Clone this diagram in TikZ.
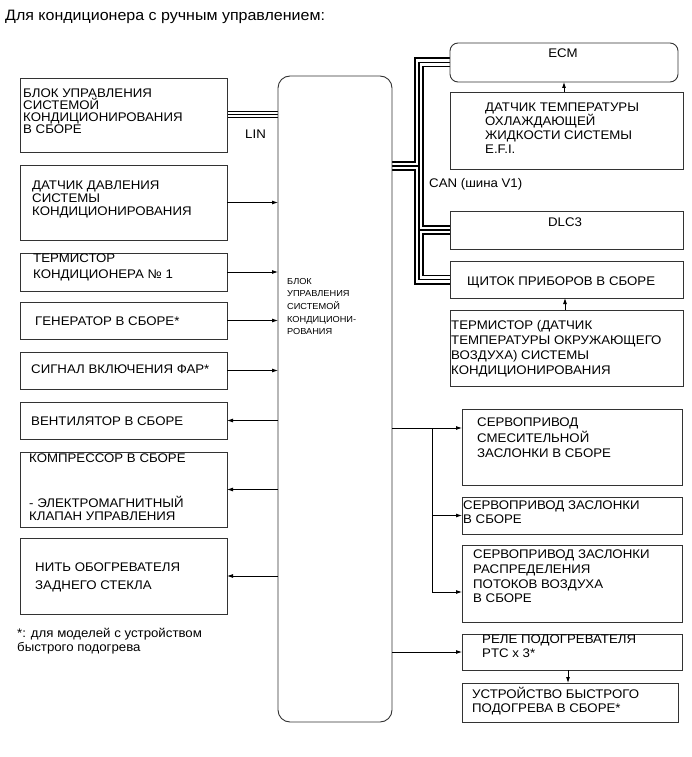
\documentclass[tikz,border=0pt]{standalone}
\usepackage{fontspec}
\setmainfont{Liberation Sans}[FakeStretch=1.06]
\usetikzlibrary{arrows.meta}
\pgfdeclarelayer{bg}
\pgfsetlayers{bg,main}
\begin{document}
\begin{tikzpicture}[x=1pt,y=-1pt,
  box/.style={draw=black!80, line width=0.9pt, inner sep=0, outer sep=0, anchor=north west},
  txt/.style={anchor=west, align=left, inner sep=0},
  arr/.style={line width=0.8pt, -{Latex[length=6pt,width=4pt]}}]
\useasboundingbox (0,0) rectangle (691,757);
\def\bf#1#2{\fontsize{#1}{#2}\selectfont}

% title
\node[txt, font=\bf{15.1}{16}] (title) at (5,17) {Для кондиционера с ручным управлением:};

% central unit
\node[box, rounded corners=12pt, minimum width=114pt, minimum height=646pt] (cb) at (278,76) {};
\node[txt, font=\bf{8.7}{12.7}] (cbt) at (287,306.5) {БЛОК\\УПРАВЛЕНИЯ\\СИСТЕМОЙ\\КОНДИЦИОНИ-\\РОВАНИЯ};

% left boxes
\node[box, minimum width=207pt, minimum height=74pt] (b1) at (20,78) {};
\node[box, minimum width=207pt, minimum height=75pt] (b2) at (20,165) {};
\node[box, minimum width=207pt, minimum height=38pt] (b3) at (20,253) {};
\node[box, minimum width=207pt, minimum height=37pt] (b4) at (20,302) {};
\node[box, minimum width=207pt, minimum height=37pt] (b5) at (20,352) {};
\node[box, minimum width=207pt, minimum height=37pt] (b6) at (20,402) {};
\node[box, minimum width=207pt, minimum height=75pt] (b7) at (20,452) {};
\node[box, minimum width=207pt, minimum height=76pt] (b8) at (20,538) {};

\node[txt, font=\bf{12.5}{11.9}] (t1) at (23,111) {БЛОК УПРАВЛЕНИЯ\\СИСТЕМОЙ\\КОНДИЦИОНИРОВАНИЯ\\В СБОРЕ};
\node[txt, font=\bf{12.5}{13.2}] (t2) at (32,199.5) {ДАТЧИК ДАВЛЕНИЯ\\СИСТЕМЫ\\КОНДИЦИОНИРОВАНИЯ};
\node[txt, font=\bf{12.5}{16}] (t3) at (33,267) {ТЕРМИСТОР\\КОНДИЦИОНЕРА № 1};
\node[txt, font=\bf{12.5}{13}] (t4) at (35,321.5) {ГЕНЕРАТОР В СБОРЕ*};
\node[txt, font=\bf{12.5}{13}] (t5) at (31,369.5) {СИГНАЛ ВКЛЮЧЕНИЯ ФАР*};
\node[txt, font=\bf{12.5}{13}] (t6) at (31,421) {ВЕНТИЛЯТОР В СБОРЕ};
\node[txt, font=\bf{12.5}{13}] (t7a) at (29,458.5) {КОМПРЕССОР В СБОРЕ};
\node[txt, font=\bf{12.5}{12.5}] (t7b) at (29,508.5) {- ЭЛЕКТРОМАГНИТНЫЙ\\КЛАПАН УПРАВЛЕНИЯ};
\node[txt, font=\bf{12.5}{18}] (t8) at (35,577.5) {НИТЬ ОБОГРЕВАТЕЛЯ\\ЗАДНЕГО СТЕКЛА};
\node[txt, font=\bf{12.5}{14}] (note) at (17,641) {*: для моделей с устройством\\быстрого подогрева};

% right upper boxes
\node[box, rounded corners=8pt, minimum width=228pt, minimum height=39pt] (ecm) at (450,43) {};
\node[box, minimum width=233pt, minimum height=77pt] (sens) at (450,92) {};
\node[box, minimum width=233pt, minimum height=38pt] (dlc) at (450,211) {};
\node[box, minimum width=233pt, minimum height=37pt] (shch) at (450,261) {};
\node[box, minimum width=233pt, minimum height=76pt] (term) at (450,310) {};

\node[font=\bf{12.5}{13}, inner sep=0] (ecmt) at (563,53.5) {ECM};
\node[txt, font=\bf{12.5}{13.9}] (senst) at (485,128) {ДАТЧИК ТЕМПЕРАТУРЫ\\ОХЛАЖДАЮЩЕЙ\\ЖИДКОСТИ СИСТЕМЫ\\E.F.I.};
\node[txt, font=\bf{12.5}{13}] (can) at (429,184.5) {CAN (шина V1)};
\node[font=\bf{12.5}{13}, inner sep=0] (dlct) at (565,222.5) {DLC3};
\node[txt, font=\bf{12.5}{13}] (shcht) at (467,282) {ЩИТОК ПРИБОРОВ В СБОРЕ};
\node[txt, font=\bf{12.5}{14.9}] (termt) at (451,349) {ТЕРМИСТОР (ДАТЧИК\\ТЕМПЕРАТУРЫ ОКРУЖАЮЩЕГО\\ВОЗДУХА) СИСТЕМЫ\\КОНДИЦИОНИРОВАНИЯ};
\node[txt, font=\bf{12.5}{13}] (lin) at (245,134.5) {LIN};

% right lower boxes
\node[box, minimum width=220pt, minimum height=76pt] (r1) at (462,409) {};
\node[box, minimum width=220pt, minimum height=37pt] (r2) at (462,497) {};
\node[box, minimum width=220pt, minimum height=77pt] (r3) at (462,545) {};
\node[box, minimum width=220pt, minimum height=36pt] (r4) at (462,634) {};
\node[box, minimum width=216pt, minimum height=39pt] (r5) at (462,683) {};

\node[txt, font=\bf{12.5}{15.5}] (r1t) at (477,438) {СЕРВОПРИВОД\\СМЕСИТЕЛЬНОЙ\\ЗАСЛОНКИ В СБОРЕ};
\node[txt, font=\bf{12.5}{14}] (r2t) at (463,512.5) {СЕРВОПРИВОД ЗАСЛОНКИ\\В СБОРЕ};
\node[txt, font=\bf{12.5}{14.7}] (r3t) at (473,576.5) {СЕРВОПРИВОД ЗАСЛОНКИ\\РАСПРЕДЕЛЕНИЯ\\ПОТОКОВ ВОЗДУХА\\В СБОРЕ};
\node[txt, font=\bf{12.5}{14}] (r4t) at (482,646.5) {РЕЛЕ ПОДОГРЕВАТЕЛЯ\\PTC x 3*};
\node[txt, font=\bf{12.5}{14}] (r5t) at (472,701.5) {УСТРОЙСТВО БЫСТРОГО\\ПОДОГРЕВА В СБОРЕ*};

\coordinate (cj) at (419,0);
\coordinate (rj) at (432,0);

% bus lines
\begin{pgfonlayer}{bg}
\foreach \w/\c in {7/black,5/white,1/black}{
  \draw[line width=\w pt,\c] (b1.east) -- (b1.east -| cb.west);
}
\foreach \w/\c in {10/black,6.5/white,1.3/black}{
  \draw[line width=\w pt,\c] (cb.east |- 0,166) -- (cj |- 0,166)
     (ecm.west) -| (cj |- shch.west) -- (shch.west)
     (cj |- dlc.west) -- (dlc.west);
}
\end{pgfonlayer}

% left arrows
\draw[arr] (b2.east) -- (b2.east -| cb.west);
\draw[arr] (b3.east) -- (b3.east -| cb.west);
\draw[arr] (b4.east) -- (b4.east -| cb.west);
\draw[arr] (b5.east) -- (b5.east -| cb.west);
\draw[arr] (b6.east -| cb.west) -- (b6.east);
\draw[arr] (b7.east -| cb.west) -- (b7.east);
\draw[arr] (b8.east -| cb.west) -- (b8.east);

% right arrows
\draw[arr] (sens.north -| ecm.south) -- (ecm.south);
\draw[arr] (term.north -| 565,0) -- (shch.south -| 565,0);
\draw[arr] (cb.east |- 0,428) -- (r1.west |- 0,428);
\draw[arr] (rj |- 0,428) |- (r3.west |- 0,592);
\draw[arr] (rj |- r2.west) -- (r2.west);
\draw[arr] (cb.east |- r4.west) -- (r4.west);
\draw[arr] (r4.south -| 568,0) -- (r5.north -| 568,0);
\end{tikzpicture}
\end{document}
